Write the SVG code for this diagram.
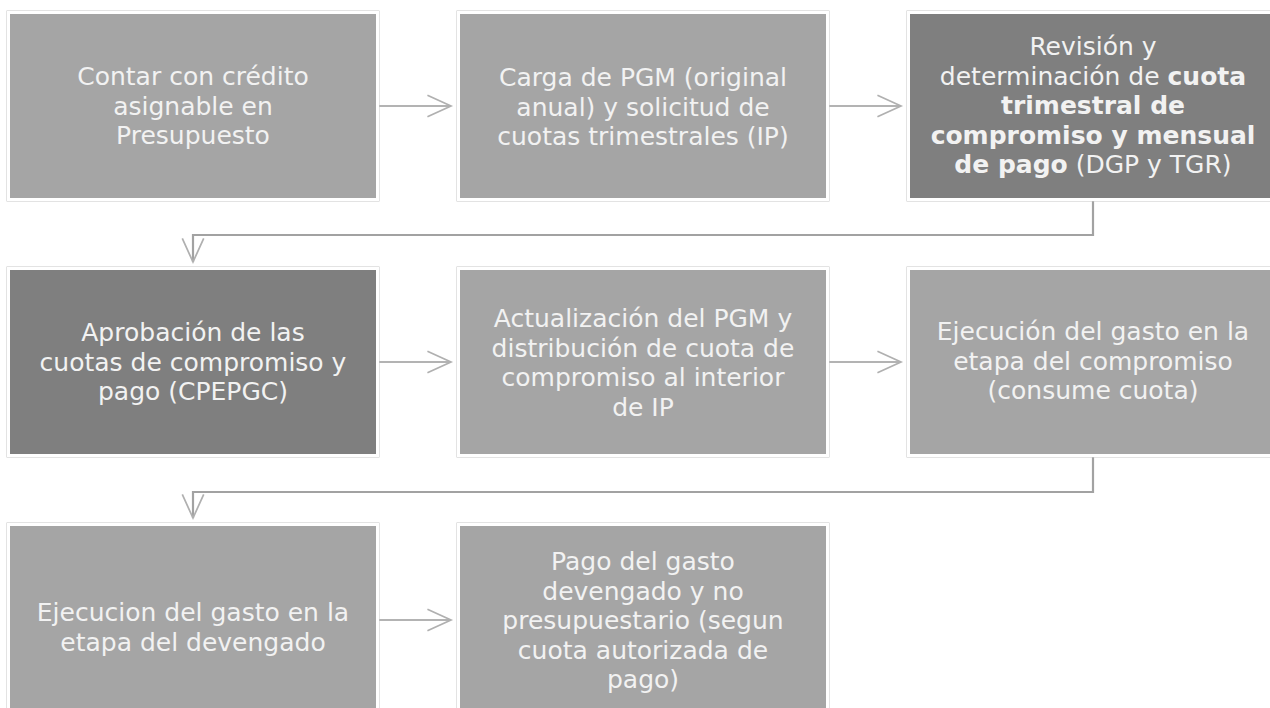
<svg xmlns="http://www.w3.org/2000/svg" width="1270" height="708" viewBox="0 0 1270 708">
  <style>
    .outer { fill: none; stroke: #c8c8c8; stroke-width: 1; }
    .lt { fill: #a5a5a5; stroke: #ffffff; stroke-width: 3; }
    .dk { fill: #7f7f7f; stroke: #ffffff; stroke-width: 3; }
    .t { font-family: "DejaVu Sans", "Open Sans", sans-serif; font-size: 25px; fill: #f2f2f2; text-anchor: middle; }
    .b { font-weight: bold; }
    .conn { fill: none; stroke: #b3b3b3; stroke-width: 2.2; }
    .elbow { fill: none; stroke: #a2a2a2; stroke-width: 2.2; }
  </style>
  <defs>
    <marker id="chev" markerUnits="userSpaceOnUse" markerWidth="30" markerHeight="30" viewBox="-2 -2 28 26" refX="22" refY="10" orient="auto">
      <path d="M0,0 L22,10 L0,20" fill="none" stroke="#b0b0b0" stroke-width="1.6"/>
    </marker>
  </defs>
  <rect width="1270" height="708" fill="#ffffff"/>

  <g id="connectors">
    <line class="conn" x1="379" y1="106" x2="451" y2="106" marker-end="url(#chev)"/>
    <line class="conn" x1="829" y1="106" x2="901" y2="106" marker-end="url(#chev)"/>
    <path class="elbow" d="M1093,200 V235 H193 V262" marker-end="url(#chev)"/>
    <line class="conn" x1="379" y1="362" x2="451" y2="362" marker-end="url(#chev)"/>
    <line class="conn" x1="829" y1="362" x2="901" y2="362" marker-end="url(#chev)"/>
    <path class="elbow" d="M1093,456 V492 H193 V518" marker-end="url(#chev)"/>
    <line class="conn" x1="379" y1="620" x2="451" y2="620" marker-end="url(#chev)"/>
  </g>

  <g id="node1">
    <rect class="outer" x="7" y="11" width="372" height="190"/>
    <rect class="lt" x="8.5" y="12.5" width="369" height="187"/>
    <text class="t"><tspan x="193" y="85">Contar con crédito</tspan><tspan x="193" y="114.5">asignable en</tspan><tspan x="193" y="144">Presupuesto</tspan></text>
  </g>

  <g id="node2">
    <rect class="outer" x="457" y="11" width="372" height="190"/>
    <rect class="lt" x="458.5" y="12.5" width="369" height="187"/>
    <text class="t"><tspan x="643" y="86">Carga de PGM (original</tspan><tspan x="643" y="115.5">anual) y solicitud de</tspan><tspan x="643" y="145">cuotas trimestrales (IP)</tspan></text>
  </g>

  <g id="node3">
    <rect class="outer" x="907" y="11" width="372" height="190"/>
    <rect class="dk" x="908.5" y="12.5" width="369" height="187"/>
    <text class="t"><tspan x="1093" y="55">Revisión y</tspan><tspan x="1093" y="84.5">determinación de <tspan class="b">cuota</tspan></tspan><tspan class="b" x="1093" y="114">trimestral de</tspan><tspan class="b" x="1093" y="143.5">compromiso y mensual</tspan><tspan x="1093" y="173"><tspan class="b">de pago</tspan> (DGP y TGR)</tspan></text>
  </g>

  <g id="node4">
    <rect class="outer" x="7" y="267" width="372" height="190"/>
    <rect class="dk" x="8.5" y="268.5" width="369" height="187"/>
    <text class="t"><tspan x="193" y="341">Aprobación de las</tspan><tspan x="193" y="370.5">cuotas de compromiso y</tspan><tspan x="193" y="400">pago (CPEPGC)</tspan></text>
  </g>

  <g id="node5">
    <rect class="outer" x="457" y="267" width="372" height="190"/>
    <rect class="lt" x="458.5" y="268.5" width="369" height="187"/>
    <text class="t"><tspan x="643" y="327">Actualización del PGM y</tspan><tspan x="643" y="356.5">distribución de cuota de</tspan><tspan x="643" y="386">compromiso al interior</tspan><tspan x="643" y="415.5">de IP</tspan></text>
  </g>

  <g id="node6">
    <rect class="outer" x="907" y="267" width="372" height="190"/>
    <rect class="lt" x="908.5" y="268.5" width="369" height="187"/>
    <text class="t"><tspan x="1093" y="340">Ejecución del gasto en la</tspan><tspan x="1093" y="369.5">etapa del compromiso</tspan><tspan x="1093" y="399">(consume cuota)</tspan></text>
  </g>

  <g id="node7">
    <rect class="outer" x="7" y="523" width="372" height="190"/>
    <rect class="lt" x="8.5" y="524.5" width="369" height="187"/>
    <text class="t"><tspan x="193" y="621">Ejecucion del gasto en la</tspan><tspan x="193" y="650.5">etapa del devengado</tspan></text>
  </g>

  <g id="node8">
    <rect class="outer" x="457" y="523" width="372" height="190"/>
    <rect class="lt" x="458.5" y="524.5" width="369" height="187"/>
    <text class="t"><tspan x="643" y="570">Pago del gasto</tspan><tspan x="643" y="599.5">devengado y no</tspan><tspan x="643" y="629">presupuestario (segun</tspan><tspan x="643" y="658.5">cuota autorizada de</tspan><tspan x="643" y="688">pago)</tspan></text>
  </g>
</svg>
